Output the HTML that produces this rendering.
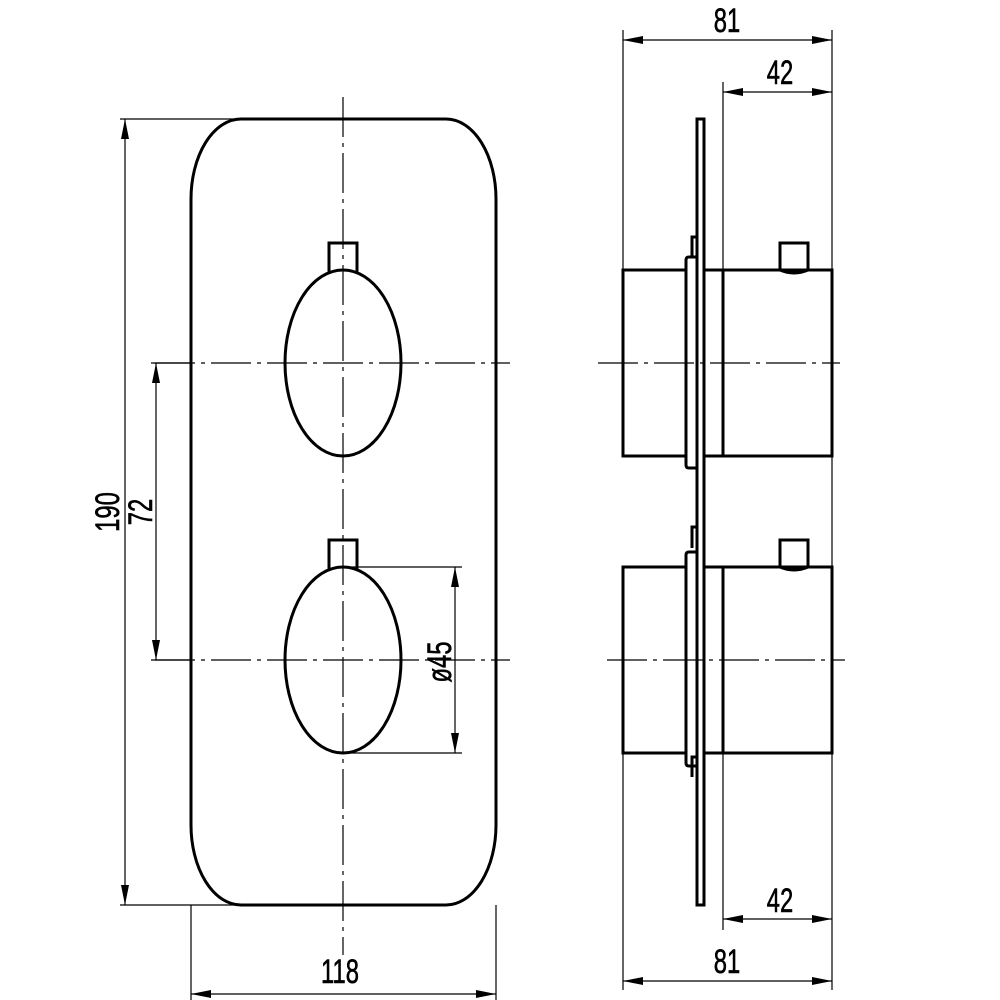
<!DOCTYPE html>
<html><head><meta charset="utf-8"><style>html,body{margin:0;padding:0;background:#fff}svg{display:block}</style></head><body>
<svg width="1000" height="1000" viewBox="0 0 1000 1000" xmlns="http://www.w3.org/2000/svg">
<defs>
<marker id="a" viewBox="0 0 20 8" refX="20" refY="4" markerWidth="20" markerHeight="8" markerUnits="userSpaceOnUse" orient="auto-start-reverse"><path d="M0,0L20,4L0,8Z" fill="#000"/></marker>
</defs>
<g fill="none" stroke="#000" stroke-width="3">
<path d="M241,119 H446 A50,80 0 0 1 496,199 V825 A50,80 0 0 1 446,905 H241 A50,80 0 0 1 191,825 V199 A50,80 0 0 1 241,119 Z"/>
<ellipse cx="343" cy="363" rx="58" ry="93"/>
<path d="M329,272 V243 H357 V272"/>
<ellipse cx="343" cy="660" rx="58" ry="93"/>
<path d="M329,569 V540 H357 V569"/>
<path d="M697,119 H704 V905 H697 Z"/>
<path d="M697,237 H692 V257 M697,527 H692 V548 M697,757 H692 V777"/>
<path d="M697,257 H689 Q686,257 686,260 V465 Q686,468 689,468 H697"/>
<path d="M697,552 H689 Q686,552 686,555 V763 Q686,766 689,766 H697"/>
<path d="M686,270 H623 V456 H686 M704,270 H832 V456 H704 M723,270 V456"/>
<path d="M686,567 H623 V753 H686 M704,567 H832 V753 H704 M723,567 V753"/>
<path d="M780,270 V243 H808 V270 Q794,276 780,270"/>
<path d="M780,567 V540 H808 V567 Q794,573 780,567"/>
</g>
<g fill="none" stroke="#000" stroke-width="1.2">
<path d="M343,97 V955" stroke-dasharray="40,6,4,6"/>
<path d="M155,363 H510 M155,660 H510 M598,363 H840 M607,660 H845" stroke-dasharray="40,6,4,6"/>
<path d="M120,119 H241 M120,905 H241 M151,363 H191 M151,660 H191"/>
<path d="M191,905 V1000 M496,905 V1000"/>
<path d="M343,567 H462 M343,753 H462"/>
<path d="M623,30 V270 M832,30 V270 M723,82 V270 M832,456 V567"/>
<path d="M623,753 V990 M832,753 V990 M723,753 V930"/>
<path d="M125,119 V905" marker-start="url(#a)" marker-end="url(#a)"/>
<path d="M156,363 V660" marker-start="url(#a)" marker-end="url(#a)"/>
<path d="M191,994 H496" marker-start="url(#a)" marker-end="url(#a)"/>
<path d="M455,567 V753" marker-start="url(#a)" marker-end="url(#a)"/>
<path d="M623,40 H832" marker-start="url(#a)" marker-end="url(#a)"/>
<path d="M723,92 H832" marker-start="url(#a)" marker-end="url(#a)"/>
<path d="M723,919 H832" marker-start="url(#a)" marker-end="url(#a)"/>
<path d="M623,981 H832" marker-start="url(#a)" marker-end="url(#a)"/>
</g>
<g font-family="Liberation Sans, sans-serif" font-size="34" fill="#000" stroke="#000" stroke-width="0.6" text-anchor="middle">
<text transform="translate(727,32) scale(0.7,1)">81</text>
<text transform="translate(780,84) scale(0.7,1)">42</text>
<text transform="translate(780,912) scale(0.7,1)">42</text>
<text transform="translate(727,973) scale(0.7,1)">81</text>
<text transform="translate(340,983) scale(0.7,1)">118</text>
<text transform="translate(119,512) rotate(-90) scale(0.7,1)">190</text>
<text transform="translate(152,512) rotate(-90) scale(0.7,1)">72</text>
<text transform="translate(451,662) rotate(-90) scale(0.7,1)">ø45</text>
</g>
</svg>
</body></html>
